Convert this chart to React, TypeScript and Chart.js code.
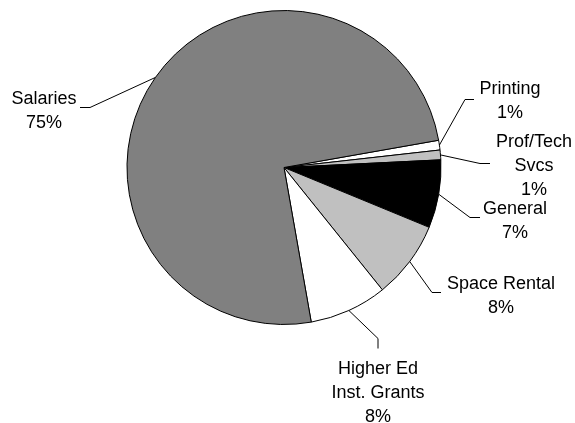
import React, { useEffect, useRef } from "react";
import { Chart, registerables } from "chart.js";

Chart.register(...registerables);

// Budget shares by expense category (percent), listed clockwise from the small slices.
const categories = ["Printing", "Prof/Tech Svcs", "General", "Space Rental", "Higher Ed Inst. Grants", "Salaries"];
const shares = [1, 1, 7, 8, 8, 75];
const sliceColors = ["#ffffff", "#c0c0c0", "#000000", "#c0c0c0", "#ffffff", "#808080"];

// Text lines of each callout.
const calloutLines = [
  ["Printing", "1%"],
  ["Prof/Tech", "Svcs", "1%"],
  ["General", "7%"],
  ["Space Rental", "8%"],
  ["Higher Ed", "Inst. Grants", "8%"],
  ["Salaries", "75%"],
];

// Callout placement, in pixels relative to the pie centre:
// elbow of the leader, end of the leader, text centre x, first baseline y.
const calloutLayout = [
  { elbow: [181, -68], end: [190, -68], tx: 226, ty: -74 },
  { elbow: [196, -4], end: [206, -4], tx: 250, ty: -21 },
  { elbow: [186, 50], end: [196, 50], tx: 231, ty: 46 },
  { elbow: [148, 125], end: [157, 125], tx: 217, ty: 121 },
  { elbow: [94, 171], end: [94, 181], tx: 94, ty: 206 },
  { elbow: [-194, -60], end: [-204, -60], tx: -240, ty: -64 },
];

const LINE_HEIGHT = 24;

const calloutPlugin = {
  id: "callouts",
  afterDatasetsDraw(chart: any) {
    const ctx = chart.ctx as CanvasRenderingContext2D;
    const meta = chart.getDatasetMeta(0);
    ctx.save();
    ctx.strokeStyle = "#000";
    ctx.lineWidth = 1;
    ctx.fillStyle = "#000";
    ctx.font = '18px "Liberation Sans", Arial, sans-serif';
    ctx.textAlign = "center";
    ctx.textBaseline = "alphabetic";
    meta.data.forEach((arc: any, i: number) => {
      const { x, y, startAngle, endAngle, outerRadius } = arc.getProps(
        ["x", "y", "startAngle", "endAngle", "outerRadius"],
        true
      );
      const mid = (startAngle + endAngle) / 2;
      const ax = x + Math.cos(mid) * outerRadius;
      const ay = y + Math.sin(mid) * outerRadius;
      const lay = calloutLayout[i];
      ctx.beginPath();
      ctx.moveTo(ax, ay);
      ctx.lineTo(x + lay.elbow[0], y + lay.elbow[1]);
      ctx.lineTo(x + lay.end[0], y + lay.end[1]);
      ctx.stroke();
      calloutLines[i].forEach((line, k) => {
        ctx.fillText(line, x + lay.tx, y + lay.ty + k * LINE_HEIGHT);
      });
    });
    ctx.restore();
  },
};

export default function App() {
  const canvasRef = useRef<HTMLCanvasElement | null>(null);

  useEffect(() => {
    if (!canvasRef.current) return;
    const chart = new Chart(canvasRef.current, {
      type: "pie",
      data: {
        labels: categories,
        datasets: [
          {
            data: shares,
            backgroundColor: sliceColors,
            borderColor: "#000000",
            borderWidth: 1,
          },
        ],
      },
      options: {
        responsive: false,
        animation: false,
        rotation: 80,
        layout: { padding: { top: 10, bottom: 98, left: 100, right: 107 } },
        plugins: {
          legend: { display: false },
          tooltip: { enabled: false },
        },
      },
      plugins: [calloutPlugin],
    });
    return () => chart.destroy();
  }, []);

  return (
    <div style={{ position: "absolute", left: 0, top: 0, width: 575, height: 423, background: "#fff" }}>
      <canvas ref={canvasRef} width={575} height={423} style={{ width: 575, height: 423 }} />
    </div>
  );
}
